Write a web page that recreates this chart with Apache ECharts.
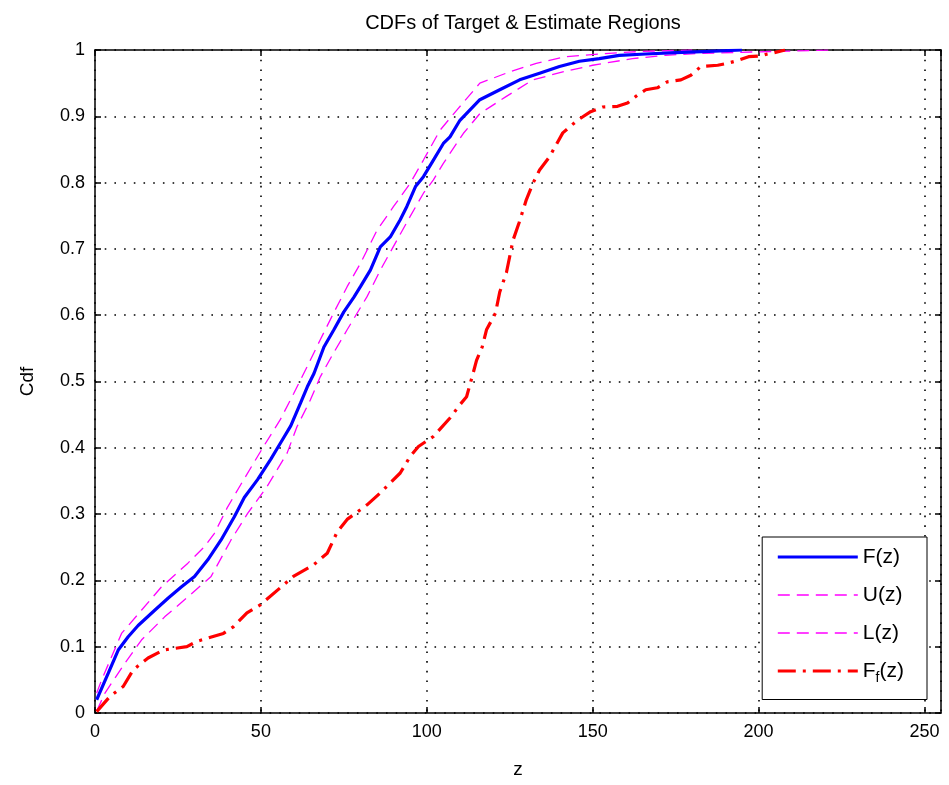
<!DOCTYPE html>
<html>
<head>
<meta charset="utf-8">
<script src="https://cdn.jsdelivr.net/npm/echarts@6/dist/echarts.min.js"></script>
<style>
  html, body { margin: 0; padding: 0; background: #fff; }
  #chart { width: 949px; height: 785px; }
</style>
</head>
<body>
<div id="chart"></div>
<script>
// empirical cdf F(z)
const fZ = [0.5, 4, 7, 10, 13, 18, 22, 26, 30, 34, 38, 42, 45, 49, 53, 56, 59, 62, 64, 66, 69, 72, 75, 78, 80, 83, 86, 89, 92, 94, 96.6, 99, 102, 105, 107, 110, 116, 122, 128, 134, 140, 146, 152, 158, 166, 175, 185, 195];
const fVal = [0.02, 0.06, 0.095, 0.115, 0.132, 0.155, 0.173, 0.19, 0.206, 0.231, 0.261, 0.296, 0.325, 0.352, 0.383, 0.408, 0.433, 0.468, 0.492, 0.512, 0.552, 0.578, 0.605, 0.627, 0.643, 0.668, 0.703, 0.718, 0.744, 0.764, 0.794, 0.809, 0.834, 0.859, 0.869, 0.894, 0.925, 0.94, 0.955, 0.965, 0.975, 0.983, 0.987, 0.992, 0.994, 0.996, 0.998, 1];

// upper bound U(z)
const uZ = [0.5, 2, 8, 14, 20, 28, 33, 36, 40, 44, 50.8, 55.8, 59.9, 63.9, 67.9, 71.9, 76, 80, 85, 90, 95, 99, 104, 109, 116, 125, 133, 142, 152, 165, 180];
const uVal = [0.03, 0.05, 0.12, 0.155, 0.19, 0.226, 0.251, 0.271, 0.311, 0.345, 0.402, 0.442, 0.482, 0.522, 0.563, 0.603, 0.643, 0.678, 0.728, 0.764, 0.799, 0.834, 0.879, 0.909, 0.95, 0.967, 0.98, 0.99, 0.994, 0.998, 1];

// lower bound L(z)
const lZ = [0.5, 3, 9, 14, 21, 28, 35, 41, 46, 51.8, 57.9, 60.9, 64.9, 67.9, 71.9, 76, 82, 86, 91, 95, 99, 102, 105, 111, 116, 124, 132, 141, 150, 162, 172, 183, 198, 222];
const lVal = [0.003, 0.03, 0.075, 0.11, 0.145, 0.175, 0.206, 0.261, 0.301, 0.341, 0.392, 0.432, 0.472, 0.507, 0.543, 0.578, 0.628, 0.668, 0.713, 0.749, 0.784, 0.804, 0.829, 0.874, 0.904, 0.93, 0.955, 0.967, 0.977, 0.987, 0.992, 0.995, 0.997, 1];

// estimate region cdf F_f(z)
const ffZ = [0.5, 4.5, 8.5, 11.5, 16, 20.6, 27.7, 30.7, 38.7, 41.7, 45.8, 49.8, 56.8, 59.8, 65.8, 70, 73, 76, 82, 86, 92, 95, 97.5, 102, 107, 110, 112, 114, 115, 116.7, 118, 120.7, 122, 124, 126, 127.8, 130, 132, 134, 137, 141, 145.4, 149.4, 153, 157.5, 160.5, 163, 166, 169.5, 172.5, 176.6, 179.6, 182.6, 187.7, 190.7, 193.7, 197, 200.7, 202.7, 204.7, 208];
const ffVal = [0.002, 0.025, 0.04, 0.065, 0.083, 0.095, 0.1, 0.108, 0.12, 0.13, 0.151, 0.163, 0.193, 0.206, 0.223, 0.241, 0.273, 0.292, 0.314, 0.332, 0.362, 0.387, 0.402, 0.417, 0.445, 0.465, 0.477, 0.513, 0.532, 0.552, 0.578, 0.603, 0.635, 0.664, 0.713, 0.739, 0.774, 0.799, 0.819, 0.839, 0.875, 0.894, 0.907, 0.914, 0.915, 0.92, 0.93, 0.94, 0.943, 0.952, 0.955, 0.962, 0.975, 0.977, 0.98, 0.984, 0.99, 0.991, 0.994, 0.996, 1];

const seriesNames = ['F(z)', 'U(z)', 'L(z)', 'F_f(z)'];
const xTicks = [0, 50, 100, 150, 200, 250];

const zip = (xs, ys) => xs.map((x, i) => [x, ys[i]]);

const chart = echarts.init(document.getElementById('chart'));
const font = 'Liberation Sans, Arial, sans-serif';

const blueLine = { color: '#0000ff', width: 3.2 };
const pinkLine = { color: '#ff00ff', width: 1.3, type: [12, 7] };
const redLine = { color: '#ff0000', width: 3.2, type: [18, 7, 3, 7] };
const lineStyles = [blueLine, pinkLine, pinkLine, redLine];

const gridLine = {
  show: true,
  lineStyle: { color: '#000', width: 1.6, type: [1.6, 8.1] }
};

const boxLine = { show: true, onZero: false, lineStyle: { color: '#000', width: 1.5 } };
const boxTick = { show: true, inside: true, length: 6, lineStyle: { color: '#000', width: 1.5 } };

const option = {
  animation: false,
  backgroundColor: '#fff',
  textStyle: { fontFamily: font },
  title: {
    text: 'CDFs of Target & Estimate Regions',
    left: 518,
    top: 8,
    textAlign: 'center',
    textStyle: { fontFamily: font, fontSize: 20, fontWeight: 'normal', color: '#000' }
  },
  legend: {
    orient: 'vertical',
    right: 22,
    top: 537,
    backgroundColor: '#fff',
    borderColor: '#000',
    borderWidth: 1,
    borderRadius: 0,
    padding: [8, 23, 14, 14],
    itemWidth: 80,
    itemHeight: 14,
    itemGap: 14,
    itemStyle: { color: 'rgba(0,0,0,0)', borderWidth: 0 },
    data: seriesNames.map((name, i) => ({ name, lineStyle: lineStyles[i] })),
    formatter: (name) => name === 'F_f(z)' ? 'F{sub|f}(z)' : name,
    textStyle: {
      fontFamily: font,
      fontSize: 21,
      color: '#000',
      lineHeight: 24,
      rich: {
        sub: { fontFamily: font, fontSize: 14, color: '#000', padding: [15, 0, 0, 0] }
      }
    }
  },
  grid: { left: 95, top: 50, right: 8, bottom: 72, containLabel: false },
  xAxis: [
    {
      type: 'value', min: 0, max: 255, interval: 50, position: 'bottom',
      name: 'z', nameLocation: 'middle', nameGap: 47,
      nameTextStyle: { fontFamily: font, fontSize: 19, color: '#000' },
      axisLine: boxLine,
      axisTick: boxTick,
      axisLabel: {
        color: '#000', fontSize: 18, fontFamily: font, margin: 10, showMaxLabel: false,
        formatter: (v) => xTicks.includes(v) ? String(v) : ''
      },
      splitLine: gridLine
    },
    {
      type: 'value', min: 0, max: 255, interval: 50, position: 'top',
      axisLine: boxLine,
      axisTick: boxTick,
      axisLabel: { show: false },
      splitLine: { show: false }
    }
  ],
  yAxis: [
    {
      type: 'value', min: 0, max: 1, interval: 0.1, position: 'left',
      name: 'Cdf', nameLocation: 'middle', nameGap: 58, nameRotate: 90,
      nameTextStyle: { fontFamily: font, fontSize: 19, color: '#000' },
      axisLine: boxLine,
      axisTick: boxTick,
      axisLabel: {
        color: '#000', fontSize: 18, fontFamily: font, margin: 10,
        formatter: (v) => String(+v.toFixed(1))
      },
      splitLine: gridLine
    },
    {
      type: 'value', min: 0, max: 1, interval: 0.1, position: 'right',
      axisLine: boxLine,
      axisTick: boxTick,
      axisLabel: { show: false },
      splitLine: { show: false }
    }
  ],
  series: [
    {
      name: 'F(z)', type: 'line', symbol: 'none', z: 4,
      data: zip(fZ, fVal),
      lineStyle: blueLine,
      itemStyle: { color: '#0000ff' }
    },
    {
      name: 'U(z)', type: 'line', symbol: 'none', z: 3,
      data: zip(uZ, uVal),
      lineStyle: pinkLine,
      itemStyle: { color: '#ff00ff' }
    },
    {
      name: 'L(z)', type: 'line', symbol: 'none', z: 3,
      data: zip(lZ, lVal),
      lineStyle: pinkLine,
      itemStyle: { color: '#ff00ff' }
    },
    {
      name: 'F_f(z)', type: 'line', symbol: 'none', z: 5,
      data: zip(ffZ, ffVal),
      lineStyle: redLine,
      itemStyle: { color: '#ff0000' }
    }
  ]
};

chart.setOption(option);
</script>
</body>
</html>
